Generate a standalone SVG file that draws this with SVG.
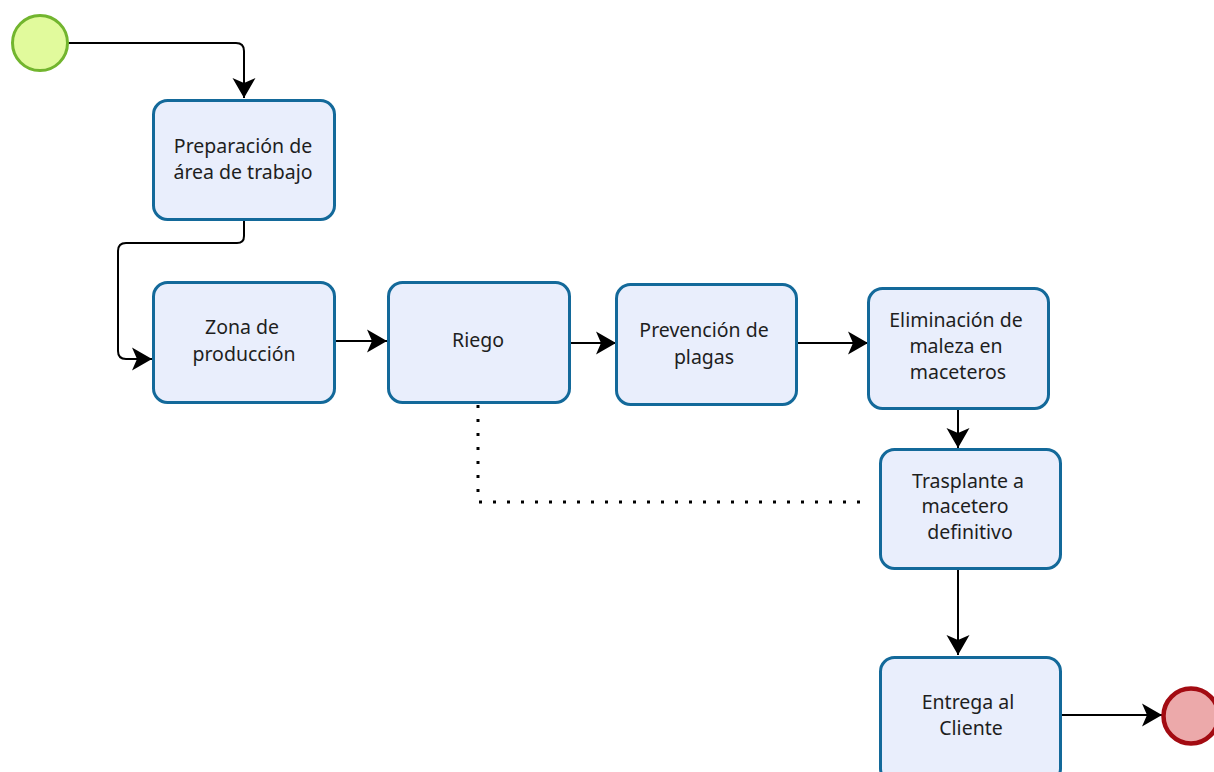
<svg xmlns="http://www.w3.org/2000/svg" width="1214" height="772" viewBox="0 0 1214 772">
<defs>
<style>
.task{fill:#e9eefc;stroke:#13699a;stroke-width:3}
.lbl{font-family:"Noto Sans","Open Sans",sans-serif;font-size:19.5px;fill:#1e1e1e;text-anchor:middle}
.flow{fill:none;stroke:#000;stroke-width:2}
.assoc{fill:none;stroke:#000;stroke-width:3;stroke-dasharray:3 11}
</style>
<marker id="arr" viewBox="0 0 20 24" refX="20" refY="12" markerWidth="20" markerHeight="24" markerUnits="userSpaceOnUse" orient="auto">
<path d="M0,0.5 L20,12 L0,23.5 L5,12 Z" fill="#000"/>
</marker>
</defs>
<rect width="1214" height="772" fill="#fff"/>
<g id="connectors">
<path class="flow" d="M68,43 H236 Q244,43 244,51 V98" marker-end="url(#arr)"/>
<path class="flow" d="M244,221 V236 Q244,243 237,243 H126 Q118,243 118,251 V351 Q118,359 126,359 H152" marker-end="url(#arr)"/>
<path class="flow" d="M335,341 H387" marker-end="url(#arr)"/>
<path class="flow" d="M570,343 H616" marker-end="url(#arr)"/>
<path class="flow" d="M797,343 H868" marker-end="url(#arr)"/>
<path class="flow" d="M958,409 V448" marker-end="url(#arr)"/>
<path class="flow" d="M958,569 V655" marker-end="url(#arr)"/>
<path class="flow" d="M1062,715 H1162" marker-end="url(#arr)"/>
<path class="assoc" d="M478,405 V502 H866"/>
</g>
<g id="start"><circle cx="40" cy="43" r="27.5" fill="#e1fa9c" stroke="#72b52e" stroke-width="3"/></g>
<g id="end"><circle cx="1191" cy="716" r="27.5" fill="#eca9aa" stroke="#a30b12" stroke-width="4.5"/></g>
<g id="n1"><rect class="task" x="153.5" y="100.5" width="181" height="119" rx="14"/>
<text class="lbl" x="243" y="153">Preparación de</text><text class="lbl" x="243" y="179">área de trabajo</text></g>
<g id="n2"><rect class="task" x="153.5" y="282.5" width="181" height="120" rx="14"/>
<text class="lbl" x="242" y="334">Zona de</text><text class="lbl" x="244" y="361">producción</text></g>
<g id="n3"><rect class="task" x="388.5" y="282.5" width="181" height="120" rx="14"/>
<text class="lbl" x="478" y="347">Riego</text></g>
<g id="n4"><rect class="task" x="616.5" y="284.5" width="180" height="120" rx="14"/>
<text class="lbl" x="704" y="337">Prevención de</text><text class="lbl" x="704" y="364">plagas</text></g>
<g id="n5"><rect class="task" x="868.5" y="288.5" width="180" height="120" rx="14"/>
<text class="lbl" x="956" y="327">Eliminación de</text><text class="lbl" x="956" y="353">maleza en</text><text class="lbl" x="958" y="379">maceteros</text></g>
<g id="n6"><rect class="task" x="880.5" y="449.5" width="180" height="119" rx="14"/>
<text class="lbl" x="968" y="488">Trasplante a</text><text class="lbl" x="965" y="513">macetero</text><text class="lbl" x="970" y="539">definitivo</text></g>
<g id="n7"><rect class="task" x="880.5" y="657.5" width="180" height="125" rx="14"/>
<text class="lbl" x="968" y="709">Entrega al</text><text class="lbl" x="971" y="735">Cliente</text></g>
</svg>
